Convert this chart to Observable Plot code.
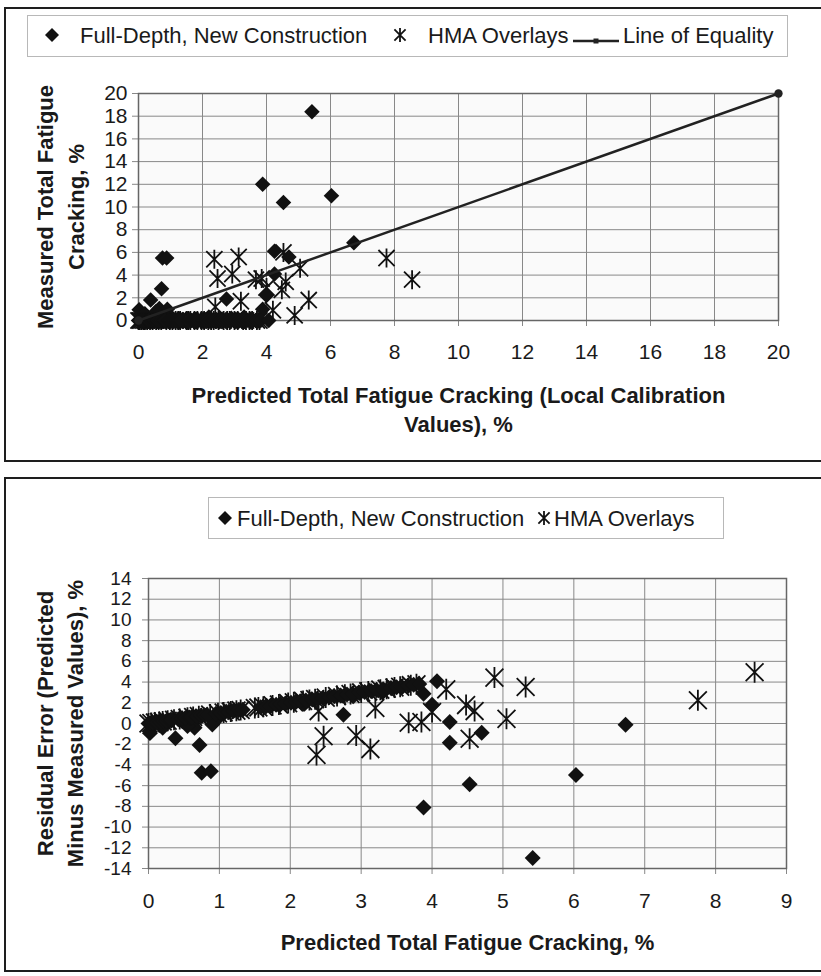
<!DOCTYPE html>
<html><head><meta charset="utf-8">
<script src="https://cdn.jsdelivr.net/npm/d3@7"></script>
<script src="https://cdn.jsdelivr.net/npm/@observablehq/plot@0.6"></script>
<style>
body{margin:0;background:#fff;overflow:hidden;font-family:"Liberation Sans",Arial,sans-serif;}
#root{position:relative;width:821px;height:976px;overflow:hidden;}
.panel{position:absolute;border:2px solid #1e1e1e;box-sizing:border-box;}
.legend{position:absolute;border:1px solid #b8b8b8;box-sizing:border-box;background:#fff;}
.lt{position:absolute;font-size:22px;color:#1a1a1a;white-space:nowrap;line-height:1;transform:translateY(-50%);}
.chart{position:absolute;left:0;}
.mk{position:absolute;overflow:visible;}
</style></head><body><div id="root"></div>
<script>
// ---------- data ----------
// Full-Depth, New Construction: points with measured cracking > 0
const fdPred = [5.42, 3.88, 4.53, 6.03, 6.73, 0.75, 0.88, 0.72, 0.38, 0.02, 4.25, 4.70, 2.75, 4.25, 4.00, 3.88, 0.65, 0.90, 0.20, 0.55, 1.00, 2.20, 2.90, 3.30];
const fdMeas = [18.4, 12.0, 10.4, 11.0, 6.85, 5.5, 5.5, 2.8, 1.8, 0.95, 6.1, 5.6, 1.9, 4.1, 2.2, 1.0, 1.05, 1.0, 0.6, 0.8, 0.35, 0.3, 0.2, 0.3];
// Full-Depth, New Construction: predicted values where measured cracking = 0
const fdZeroPred = [0.00, 0.03, 0.06, 0.10, 0.12, 0.17, 0.21, 0.25, 0.30, 0.33, 0.42, 0.47, 0.52, 0.58, 0.61, 0.68, 0.74, 0.79, 0.83, 0.95, 1.02, 1.08, 1.13, 1.20, 1.27, 1.33, 1.58, 1.66, 1.72, 1.80, 1.86, 1.93, 2.01, 2.08, 2.14, 2.22, 2.31, 2.38, 2.46, 2.55, 2.62, 2.71, 2.80, 2.88, 2.97, 3.05, 3.14, 3.22, 3.31, 3.42, 3.50, 3.57, 3.66, 3.74, 3.82, 4.07];
// HMA Overlays: points with measured cracking > 0
const hmaPred = [2.37, 3.13, 2.47, 2.93, 3.67, 3.85, 4.53, 5.05, 4.48, 4.60, 5.32, 4.88, 4.20, 3.20, 2.40, 7.75, 8.55, 4.00];
const hmaMeas = [5.4, 5.6, 3.7, 4.1, 3.6, 3.7, 6.0, 4.6, 2.7, 3.4, 1.8, 0.45, 0.9, 1.7, 1.2, 5.5, 3.6, 2.9];
// HMA Overlays: predicted values where measured cracking = 0
const hmaZeroPred = [0.00, 0.04, 0.09, 0.15, 0.20, 0.27, 0.36, 0.44, 0.55, 0.63, 0.71, 0.87, 0.98, 1.06, 1.16, 1.24, 1.30, 1.50, 1.55, 1.62, 1.75, 1.84, 1.97, 2.05, 2.18, 2.27, 2.35, 2.50, 2.66, 2.77, 2.85, 3.00, 3.10, 3.27, 3.36, 3.47, 3.55, 3.70, 3.78];
// line of equality end points
const eqX = [0, 20];
const eqY = [0, 20];
// tick values
const topTicks = [0, 2, 4, 6, 8, 10, 12, 14, 16, 18, 20];
const botXTicks = [0, 1, 2, 3, 4, 5, 6, 7, 8, 9];
const botYTicks = [-14, -12, -10, -8, -6, -4, -2, 0, 2, 4, 6, 8, 10, 12, 14];
// labels
const legFD = "Full-Depth, New Construction";
const legHMA = "HMA Overlays";
const legEQ = "Line of Equality";
const topYTitle = "Measured Total Fatigue\nCracking, %";
const topXTitle = "Predicted Total Fatigue Cracking (Local Calibration\nValues), %";
const botYTitle = "Residual Error (Predicted\nMinus Measured Values), %";
const botXTitle = "Predicted Total Fatigue Cracking, %";

// ---------- tables ----------
const fdRows = fdPred.map((p, i) => ({pred: p, meas: fdMeas[i]}))
  .concat(fdZeroPred.map(p => ({pred: p, meas: 0})))
  .map(d => ({...d, resid: d.pred - d.meas}));
const hmaRows = hmaPred.map((p, i) => ({pred: p, meas: hmaMeas[i]}))
  .concat(hmaZeroPred.map(p => ({pred: p, meas: 0})))
  .map(d => ({...d, resid: d.pred - d.meas}));
const eqRows = eqX.map((x, i) => ({x, y: eqY[i]}));

const star = {draw(ctx, size) {
  const r = Math.sqrt(size / Math.PI), d = r * 0.85;
  ctx.moveTo(0, -r); ctx.lineTo(0, r);
  ctx.moveTo(-d, -d); ctx.lineTo(d, d);
  ctx.moveTo(-d, d); ctx.lineTo(d, -d);
}};

const root = document.getElementById("root");
function el(tag, cls, css, html) {
  const e = document.createElement(tag);
  if (cls) e.className = cls;
  Object.assign(e.style, css);
  if (html != null) e.textContent = html;
  root.appendChild(e);
  return e;
}
function svgMark(cx, cy, w, h, inner) {
  const d = document.createElement("div");
  d.className = "mk";
  Object.assign(d.style, {left: (cx - w / 2) + "px", top: (cy - h / 2) + "px", width: w + "px", height: h + "px"});
  d.innerHTML = `<svg width="${w}" height="${h}" viewBox="${-w/2} ${-h/2} ${w} ${h}" style="overflow:visible">${inner}</svg>`;
  root.appendChild(d);
}
const diamondSvg = (s) => `<polygon points="0,${-s} ${s},0 0,${s} ${-s},0" fill="#111"/>`;
const starSvg = (s) => { const d = s * 0.8; return `<path d="M0,${-s}V${s}M${-d},${-d}L${d},${d}M${-d},${d}L${d},${-d}" stroke="#111" stroke-width="1.8" fill="none"/>`; };

// panels
el("div", "panel", {left: "4px", top: "7px", width: "830px", height: "455px"});
el("div", "panel", {left: "4px", top: "477px", width: "830px", height: "495px"});

const font = "Liberation Sans, Arial, Helvetica, sans-serif";

// ---------- top chart ----------
const topPlot = Plot.plot({
  width: 821, height: 400,
  marginLeft: 138, marginRight: 43, marginTop: 33, marginBottom: 140,
  style: {background: "transparent", fontFamily: font, fontSize: "21px", color: "#1a1a1a", overflow: "visible"},
  x: {domain: [0, 20]},
  y: {domain: [0, 20]},
  marks: [
    Plot.frame({fill: "#fafafa"}),
    Plot.gridX({ticks: topTicks, stroke: "#888", strokeOpacity: 1, strokeWidth: 1}),
    Plot.gridY({ticks: topTicks, stroke: "#888", strokeOpacity: 1, strokeWidth: 1}),
    Plot.axisX({ticks: topTicks, tickSize: 6, tickPadding: 18, fontSize: 21, stroke: "#888", fill: "#1a1a1a", label: null}),
    Plot.axisY({ticks: topTicks, tickSize: 6, tickPadding: 5, fontSize: 21, stroke: "#888", fill: "#1a1a1a", label: null}),
    Plot.frame({stroke: "#666", strokeWidth: 1.5}),
    Plot.dot(hmaRows, {x: "pred", y: "meas", symbol: star, r: 9.5, fill: "none", stroke: "#111", strokeWidth: 1.8}),
    Plot.dot(fdRows, {x: "pred", y: "meas", symbol: "diamond2", r: 7, fill: "#111", stroke: "none"}),
    Plot.line(eqRows, {x: "x", y: "y", stroke: "#222", strokeWidth: 2.5, marker: "dot"}),
    Plot.text([topYTitle], {text: d => d, frameAnchor: "left", dx: -79.5, rotate: -90, textAnchor: "middle", lineAnchor: "middle", lineHeight: 1.4, fontSize: 22, fontWeight: "bold", fill: "#1a1a1a"}),
    Plot.text([topXTitle], {text: d => d, frameAnchor: "bottom", dy: 87.5, textAnchor: "middle", lineAnchor: "middle", lineHeight: 1.32, fontSize: 22, fontWeight: "bold", fill: "#1a1a1a"})
  ]
});
topPlot.classList.add("chart");
topPlot.style.top = "60px";
root.appendChild(topPlot);

// ---------- bottom chart ----------
const botPlot = Plot.plot({
  width: 821, height: 425,
  marginLeft: 148, marginRight: 35, marginTop: 33, marginBottom: 102,
  style: {background: "transparent", fontFamily: font, fontSize: "19px", color: "#1a1a1a", overflow: "visible"},
  x: {domain: [0, 9]},
  y: {domain: [-14, 14]},
  marks: [
    Plot.frame({fill: "#fafafa"}),
    Plot.gridX({ticks: botXTicks, stroke: "#888", strokeOpacity: 1, strokeWidth: 1}),
    Plot.gridY({ticks: botYTicks, stroke: "#888", strokeOpacity: 1, strokeWidth: 1}),
    Plot.axisX({ticks: botXTicks, tickSize: 6, tickPadding: 19, fontSize: 21, stroke: "#888", fill: "#1a1a1a", label: null}),
    Plot.axisY({ticks: botYTicks, tickSize: 6, tickPadding: 11, fontSize: 19, stroke: "#888", fill: "#1a1a1a", label: null, tickFormat: d => String(d)}),
    Plot.frame({stroke: "#666", strokeWidth: 1.5}),
    Plot.dot(hmaRows, {x: "pred", y: "resid", symbol: star, r: 10.5, fill: "none", stroke: "#111", strokeWidth: 1.8}),
    Plot.dot(fdRows, {x: "pred", y: "resid", symbol: "diamond2", r: 7.2, fill: "#111", stroke: "none"}),
    Plot.text([botYTitle], {text: d => d, frameAnchor: "left", dx: -90, rotate: -90, textAnchor: "middle", lineAnchor: "middle", lineHeight: 1.36, fontSize: 22, fontWeight: "bold", fill: "#1a1a1a"}),
    Plot.text([botXTitle], {text: d => d, frameAnchor: "bottom", dy: 74, textAnchor: "middle", lineAnchor: "middle", fontSize: 22, fontWeight: "bold", fill: "#1a1a1a"})
  ]
});
botPlot.classList.add("chart");
botPlot.style.top = "545px";
root.appendChild(botPlot);

// ---------- legends ----------
el("div", "legend", {left: "27px", top: "15px", width: "761px", height: "42px"});
svgMark(52, 35, 14, 14, diamondSvg(7));
el("div", "lt", {left: "80px", top: "36px"}, legFD);
svgMark(400, 35, 14, 14, starSvg(7));
el("div", "lt", {left: "428px", top: "36px"}, legHMA);
svgMark(596, 35, 46, 8, `<line x1="-23" y1="0" x2="23" y2="0" stroke="#222" stroke-width="2.5"/><rect x="-2.5" y="-2.5" width="5" height="5" fill="#222"/>`);
el("div", "lt", {left: "623px", top: "36px"}, legEQ);

el("div", "legend", {left: "208px", top: "497px", width: "516px", height: "42px"});
svgMark(225, 518, 14, 14, diamondSvg(7));
el("div", "lt", {left: "237px", top: "519px"}, legFD);
svgMark(544, 518, 14, 14, starSvg(7));
el("div", "lt", {left: "554px", top: "519px"}, legHMA);
</script>
</body></html>
